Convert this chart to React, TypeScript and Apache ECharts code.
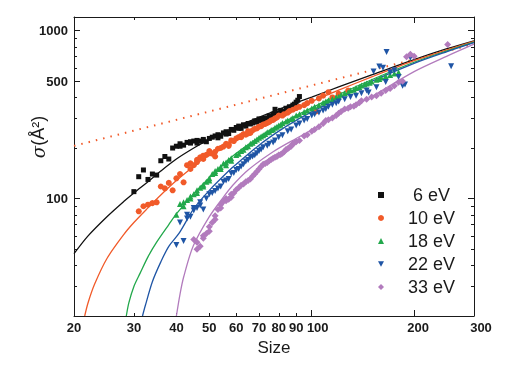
import React, { useEffect, useRef } from "react";
import * as echarts from "echarts";

// ---------- data ----------
const xTickLabels = [20, 30, 40, 50, 60, 70, 80, 90, 100, 200, 300];
const xMajorTicks = [20, 100, 200, 300];
const xMinorTicks = [30, 40, 50, 60, 70, 80, 90];
const yTickLabels = [100, 500, 1000];
const yMajorTicks = [100, 500, 1000];
const yMinorTicks = [30, 40, 50, 60, 70, 80, 90, 200, 300, 400, 600, 700, 800, 900];

const seriesNames = ["6 eV", "10 eV", "18 eV", "22 eV", "33 eV"];

// scatter data (size, sigma)
const size6 = [30, 31, 32, 33, 34, 35, 36, 37, 38, 40, 41, 42, 43, 44, 45, 46, 47, 48, 49, 50, 52, 53, 54, 55, 56, 57, 58, 60, 61, 62, 63, 65, 66, 68, 69, 70, 72, 73, 75, 77, 78, 80, 82, 84, 86, 88, 90, 92,
  39, 41, 44, 46, 48, 51, 53, 56, 59, 61, 64, 67, 71, 74, 76, 79, 81, 83, 85, 87, 89, 91];
const sigma6 = [110, 135, 148, 130, 140, 138, 168, 178, 172, 205, 212, 208, 216, 214, 220, 222, 220, 225, 218, 228, 236, 240, 235, 246, 250, 244, 258, 265, 270, 262, 275, 280, 278, 290, 285, 298, 300, 296, 310, 318, 340, 322, 330, 345, 352, 360, 375, 405,
  200, 205, 218, 214, 220, 232, 230, 242, 255, 262, 270, 282, 292, 302, 308, 320, 335, 325, 338, 348, 365, 385];

const size10 = [31, 32, 33, 34, 35, 36, 37, 38, 39, 40, 41, 42, 43, 44, 45, 46, 47, 48, 49, 50, 51, 52, 53, 55, 56, 57, 58, 60, 61, 62, 63, 64, 65, 66, 68, 70, 72, 74, 76, 78, 80, 83, 86, 90, 95, 100, 103, 108, 115,
  44, 46, 48, 50, 52, 54, 57, 59, 62, 65, 67, 69, 71, 73, 75, 77, 79, 82, 85, 88, 92, 97, 105, 112, 120, 128];
const sigma10 = [84, 90, 92, 94, 95, 118, 115, 124, 112, 132, 140, 125, 158, 162, 158, 170, 176, 180, 182, 192, 185, 178, 198, 204, 212, 206, 222, 228, 232, 236, 242, 240, 252, 246, 260, 268, 276, 282, 292, 300, 312, 318, 332, 346, 360, 382, 330, 410, 400,
  150, 165, 172, 186, 190, 200, 210, 220, 232, 244, 255, 262, 270, 278, 286, 294, 304, 312, 325, 338, 352, 370, 395, 430, 420, 440];

const size18 = [40, 41, 42, 43, 44, 45, 46, 47, 48, 49, 50, 51, 52, 53, 54, 55, 56, 57, 58, 60, 62, 64, 66, 68, 70, 72, 74, 76, 78, 80, 82, 85, 88, 90, 95, 100, 105, 110, 115, 120, 125, 130, 135, 140, 145, 150, 155, 160, 170, 180,
  42, 44, 46, 48, 50, 52, 54, 56, 58, 61, 63, 65, 67, 69, 71, 73, 75, 77, 79, 81, 84, 87, 92, 97, 102, 108, 112, 118, 122, 128, 133, 138, 143, 148, 158, 165, 175];
const sigma18 = [80, 93, 95, 98, 100, 106, 112, 116, 121, 126, 132, 140, 146, 150, 154, 162, 164, 170, 174, 182, 192, 202, 212, 220, 230, 238, 248, 256, 264, 272, 282, 292, 302, 312, 328, 344, 360, 378, 392, 404, 424, 440, 455, 472, 485, 498, 510, 525, 545, 565,
  90, 103, 108, 118, 128, 142, 150, 158, 168, 185, 195, 205, 215, 225, 234, 242, 250, 258, 268, 275, 288, 298, 318, 335, 352, 372, 385, 400, 415, 430, 445, 462, 478, 490, 515, 535, 555];

const size22 = [40, 41, 42, 43, 44, 45, 46, 47, 48, 50, 52, 54, 55, 57, 58, 60, 62, 64, 66, 68, 70, 72, 75, 78, 80, 85, 90, 95, 100, 105, 110, 115, 120, 130, 140, 147, 152, 158, 162, 166, 170, 175, 188, 195, 257,
  43, 45, 47, 49, 51, 53, 56, 59, 61, 63, 65, 67, 69, 71, 74, 77, 82, 87, 92, 97, 102, 108, 112, 118, 125, 135, 145, 155, 165, 180, 185];
const sigma22 = [53, 72, 56, 76, 78, 85, 88, 91, 86, 106, 111, 118, 126, 131, 141, 148, 155, 166, 176, 181, 192, 202, 212, 222, 232, 252, 272, 292, 312, 326, 342, 362, 378, 402, 424, 428, 570, 612, 600, 745, 565, 580, 478, 690, 614,
  80, 88, 95, 100, 108, 115, 128, 142, 150, 160, 170, 178, 186, 196, 206, 216, 238, 258, 280, 298, 318, 335, 352, 370, 390, 410, 440, 460, 495, 530, 470];

const size33 = [45, 46, 47, 48, 49, 50, 51, 52, 53, 54, 55, 56, 57, 58, 60, 62, 64, 66, 68, 70, 72, 74, 76, 78, 80, 82, 84, 86, 88, 90, 95, 100, 105, 110, 115, 120, 125, 130, 135, 140, 150, 160, 170, 180, 190, 195, 200, 251,
  46, 48, 50, 52, 54, 56, 58, 59, 61, 63, 65, 67, 69, 71, 73, 75, 77, 79, 81, 83, 85, 87, 89, 92, 97, 102, 108, 112, 118, 122, 128, 133, 138, 145, 155, 165, 175, 185];
const sigma33 = [57, 50, 52, 60, 62, 68, 72, 79, 86, 92, 96, 100, 99, 106, 113, 120, 126, 131, 140, 150, 160, 164, 171, 176, 182, 186, 196, 202, 212, 218, 236, 252, 268, 292, 302, 322, 342, 352, 362, 382, 402, 424, 452, 492, 700, 722, 703, 826,
  55, 58, 64, 75, 88, 97, 102, 108, 116, 122, 128, 136, 145, 155, 162, 168, 174, 178, 183, 190, 198, 205, 215, 222, 240, 258, 280, 295, 312, 330, 345, 355, 372, 390, 410, 440, 470, 500];

// fitted curves
const fitX6 = [20, 22, 25, 28, 30, 33, 36, 40, 45, 50, 60, 70, 80, 90, 100, 120, 150, 200, 250, 300];
const fitY6 = [47, 60, 78, 96, 108, 126, 146, 172, 200, 226, 268, 305, 340, 372, 402, 462, 545, 672, 780, 870];
const fitX10 = [21.5, 22, 23, 25, 28, 30, 33, 36, 40, 45, 50, 60, 70, 80, 90, 100, 120, 150, 200, 250, 300];
const fitY10 = [20, 24, 31, 44, 61, 72, 88, 105, 128, 156, 183, 230, 272, 310, 345, 378, 442, 530, 662, 768, 862];
const fitX18 = [28.5, 29, 30, 31.3, 33, 35, 38, 40, 45, 50, 55, 60, 70, 80, 90, 100, 120, 150, 200, 250, 300];
const fitY18 = [20, 24, 30, 36, 45, 55, 70, 81, 107, 133, 160, 186, 232, 274, 312, 347, 416, 510, 648, 758, 855];
const fitX22 = [31.8, 32.4, 34, 36, 38, 40.7, 45, 50, 57.4, 60, 70, 80, 90, 100, 120, 150, 200, 250, 300];
const fitY22 = [20, 23, 32, 42, 52, 62, 87, 112, 148, 160, 208, 252, 292, 328, 398, 498, 638, 750, 848];
const fitX33 = [40, 41, 42, 44.8, 50, 55, 58.6, 65, 77, 90, 100, 120, 150, 200, 250, 300];
const fitY33 = [20, 27, 34, 52, 78, 102, 120, 148, 190, 228, 256, 318, 405, 570, 705, 830];

// dotted asymptote
const asymX = [20, 300];
const asymY = [206, 830];

// ---------- style ----------
const colors = ["#111111", "#f15a29", "#22a84b", "#1f55a5", "#b27bbd"];
const symbols = ["rect", "circle", "triangle", "triangle", "diamond"];
const symbolRotates = [0, 0, 0, 180, 0];
const symbolSizes = [5, 6, 6, 6, 7];
const legendIcons = ["rect", "circle", "triangle", "path://M0,0 L10,0 L5,9 Z", "diamond"];
const legendPads = [24, 19, 19, 19, 19];
const xLabelPads: Record<number, number> = { 100: 12, 200: 8, 300: 14 };

const lg = (v: number) => Math.log10(v);
const pairs = (xs: number[], ys: number[]) => xs.map((x, i) => [lg(x), lg(ys[i])]);

const scatterX = [size6, size10, size18, size22, size33];
const scatterY = [sigma6, sigma10, sigma18, sigma22, sigma33];
const fitXs = [fitX6, fitX10, fitX18, fitX22, fitX33];
const fitYs = [fitY6, fitY10, fitY18, fitY22, fitY33];

const FONT = "'Liberation Sans', Arial, sans-serif";
const fmt = (v: number) => String(Math.round(Math.pow(10, v)));
const fmtX = (v: number) => {
  const n = Math.round(Math.pow(10, v));
  return xLabelPads[n] ? `{p${xLabelPads[n]}|${n}}` : String(n);
};

export default function App() {
  const ref = useRef<HTMLDivElement>(null);
  useEffect(() => {
    if (!ref.current) return;
    const chart = echarts.init(ref.current, undefined, { renderer: "svg" });
    const axisLineStyle = { color: "#1a1a1a", width: 1 };
    const xCommon = {
      type: "value",
      min: lg(20),
      max: lg(300),
      splitLine: { show: false },
      gridIndex: 0,
    };
    const yCommon = {
      type: "value",
      min: lg(20),
      max: 3.081,
      splitLine: { show: false },
      gridIndex: 0,
    };
    const labelStyle = { color: "#1a1a1a", fontFamily: FONT, fontWeight: "bold", fontSize: 13 };
    const rich: any = {};
    Object.values(xLabelPads).forEach((p) => {
      rich["p" + p] = { ...labelStyle, padding: [0, 0, 0, p] };
    });
    const mkAxis = (common: any, position: string, major: boolean, labels: any) => ({
      ...common,
      position,
      axisLine: major ? { show: true, onZero: false, lineStyle: axisLineStyle } : { show: false },
      axisTick: {
        show: true,
        inside: true,
        length: major ? 6 : 3,
        lineStyle: axisLineStyle,
        customValues: (common === xCommon ? (major ? xMajorTicks : xMinorTicks) : (major ? yMajorTicks : yMinorTicks)).map(lg),
      },
      axisLabel: labels || { show: false },
    });
    const xAxis = [
      mkAxis(xCommon, "bottom", true, { show: true, ...labelStyle, margin: 5, formatter: fmtX, rich, customValues: xTickLabels.map(lg) }),
      mkAxis(xCommon, "bottom", false, null),
      mkAxis(xCommon, "top", true, null),
      mkAxis(xCommon, "top", false, null),
    ];
    const yAxis = [
      mkAxis(yCommon, "left", true, { show: true, ...labelStyle, margin: 6, formatter: fmt, customValues: yTickLabels.map(lg) }),
      mkAxis(yCommon, "left", false, null),
      mkAxis(yCommon, "right", true, null),
      mkAxis(yCommon, "right", false, null),
    ];

    const series: any[] = [];
    series.push({
      type: "line",
      name: "asymptote",
      data: pairs(asymX, asymY),
      showSymbol: false,
      symbol: "none",
      lineStyle: { color: "#f15a29", width: 2, type: [1.5, 6] },
      silent: true,
      z: 1,
    });
    seriesNames.forEach((name, i) => {
      series.push({
        type: "line",
        name: name + " fit",
        data: pairs(fitXs[i], fitYs[i]),
        smooth: 0.3,
        showSymbol: false,
        symbol: "none",
        clip: true,
        lineStyle: { color: colors[i], width: 1.3 },
        silent: true,
        z: 2,
      });
    });
    seriesNames.forEach((name, i) => {
      series.push({
        type: "scatter",
        name,
        data: pairs(scatterX[i], scatterY[i]),
        symbol: symbols[i],
        symbolRotate: symbolRotates[i],
        symbolSize: symbolSizes[i],
        itemStyle: { color: colors[i], opacity: 1 },
        z: 3,
      });
    });

    chart.setOption({
      animation: false,
      grid: { left: 74, right: 54, top: 17, bottom: 50, containLabel: false },
      xAxis,
      yAxis,
      legend: {
        orient: "vertical",
        left: 373,
        top: 181,
        itemWidth: 6,
        itemHeight: 6,
        itemGap: 5,
        data: seriesNames.map((n, i) => ({
          name: n,
          icon: legendIcons[i],
          itemStyle: { color: colors[i] },
          textStyle: { padding: [0, 0, 0, legendPads[i]] },
        })),
        textStyle: { fontFamily: FONT, fontSize: 18, lineHeight: 18, color: "#1a1a1a" },
        selectedMode: false,
      },
      graphic: [
        {
          type: "text",
          x: 38,
          y: 137,
          rotation: Math.PI / 2,
          style: {
            text: "{s|σ}{t|(Å²)}",
            align: "center",
            verticalAlign: "middle",
            rich: {
              s: { fontFamily: "'DejaVu Serif', serif", fontStyle: "italic", fontSize: 18, fill: "#1a1a1a" },
              t: { fontFamily: FONT, fontSize: 18, fill: "#1a1a1a" },
            },
          },
        },
        {
          type: "text",
          x: 274,
          y: 347,
          style: {
            text: "Size",
            fontFamily: FONT,
            fontSize: 17,
            fill: "#1a1a1a",
            align: "center",
            verticalAlign: "middle",
          },
        },
      ],
      series,
    });
    return () => chart.dispose();
  }, []);
  return <div ref={ref} style={{ position: "fixed", left: 0, top: 0, width: 528, height: 366 }} />;
}
